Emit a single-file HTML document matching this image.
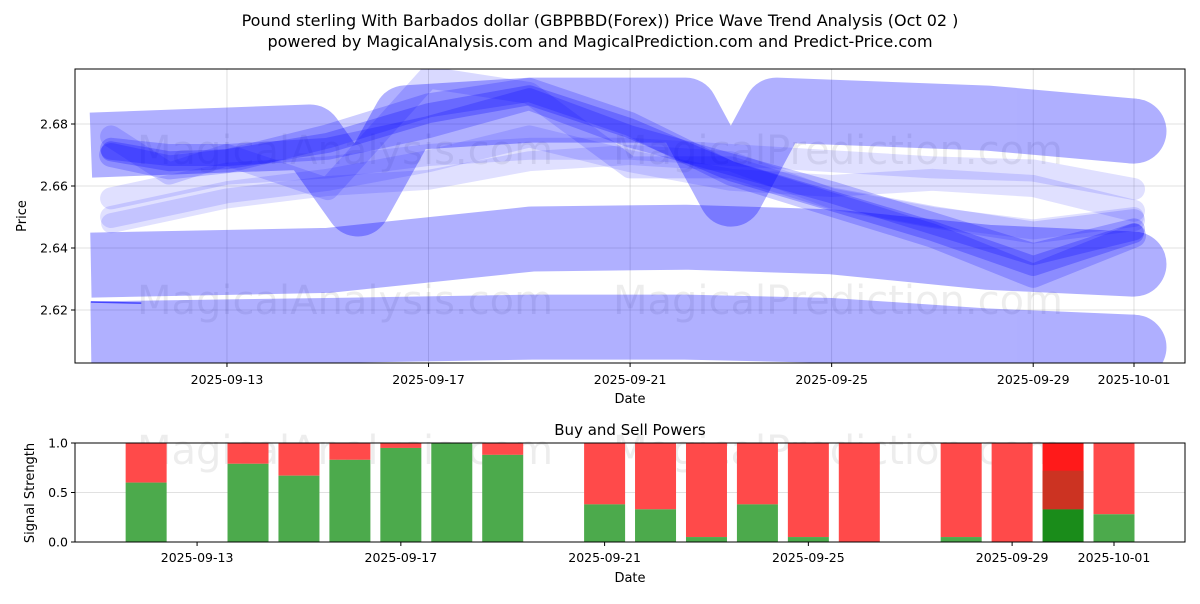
<!DOCTYPE html>
<html><head><meta charset="utf-8"><style>
body{margin:0;background:#fff;width:1200px;height:600px;overflow:hidden;font-family:"DejaVu Sans","Liberation Sans",sans-serif;}
svg text{font-family:"DejaVu Sans","Liberation Sans",sans-serif;}
</style></head><body>
<svg id="c" width="1200" height="600" xmlns="http://www.w3.org/2000/svg">
<text x="600" y="26" text-anchor="middle" font-size="16">Pound sterling With Barbados dollar (GBPBBD(Forex)) Price Wave Trend Analysis (Oct 02 )</text>
<text x="600" y="47" text-anchor="middle" font-size="16">powered by MagicalAnalysis.com and MagicalPrediction.com and Predict-Price.com</text>
<g id="top"></g><g id="bot"></g>
</svg>
<script>
// ---- top chart data (day offset from 2025-09-10, price) ----
const topTicks=[2.62,2.64,2.66,2.68];
const dateTicks=['2025-09-13','2025-09-17','2025-09-21','2025-09-25','2025-09-29','2025-10-01'];
const dateTickDays=[3,7,11,15,19,21];
const bandADays=[0.3,4.65,5.6,6.55,9.05,12.1,13.0,13.9,18.1,21];
const bandAPrice=[2.6732,2.6758,2.6542,2.6820,2.6845,2.6845,2.6574,2.6845,2.6819,2.6777];
const bandBDays=[0.3,5,9.05,12.1,15,18.1,21];
const bandBPrice=[2.6345,2.6360,2.6429,2.6435,2.6420,2.6370,2.6348];
const bandCDays=[0.3,5,9.05,12.1,15,18.1,21];
const bandCPrice=[2.6123,2.6134,2.6145,2.6145,2.6134,2.6100,2.6080];
const waveDays=[0.7,1.85,3.0,5,7,9,11,13,15,17,19,21];
const wave1=[2.6712,2.6680,2.6686,2.6739,2.6835,2.6893,2.6786,2.6648,2.6552,2.6455,2.6342,2.6448];
const wave2=[2.6720,2.6700,2.6700,2.6720,2.6790,2.6880,2.6760,2.6670,2.6580,2.6480,2.6380,2.6460];
const wave3=[2.6700,2.6660,2.6680,2.6760,2.6860,2.6910,2.6800,2.6640,2.6540,2.6440,2.6310,2.6440];
const wave4=[2.6560,2.6600,2.6640,2.6660,2.6700,2.6720,2.6720,2.6700,2.6680,2.6660,2.6650,2.6590];
const wave5=[2.6500,2.6540,2.6580,2.6620,2.6680,2.6760,2.6680,2.6620,2.6600,2.6620,2.6600,2.6520];
const wave6=[2.6760,2.6640,2.6700,2.6590,2.6950,2.6900,2.6660,2.6660,2.6560,2.6500,2.6450,2.6490];
const wave7=[2.6480,2.6520,2.6560,2.6600,2.6620,2.6680,2.6700,2.6680,2.6560,2.6500,2.6460,2.6500];
// ---- bottom chart data ----
const barDays=[2,4,5,6,7,8,9,11,12,13,14,15,16,18,19,20,21];
const buyPower=[0.60,0.79,0.67,0.83,0.95,1.0,0.88,0.38,0.33,0.05,0.38,0.05,0,0.05,0,0.33,0.28];
const sigTicks=[0,0.5,1.0];

const NS='http://www.w3.org/2000/svg';
function mk(tag,attrs,parent){const e=document.createElementNS(NS,tag);for(const k in attrs)e.setAttribute(k,attrs[k]);parent.appendChild(e);return e;}
const topG=document.getElementById('top'),botG=document.getElementById('bot');
const TL=75,TR=1185,TT=69,TB=363;
const tx=d=>75.8+d*50.39, ty=p=>310-(p-2.62)*3100;
const BL=75,BR=1185,BT=443,BB=542;
const bx=d=>1114-(21-d)*50.94, by=v=>BB-v*99;
const defs=mk('defs',{},topG);
const cp=mk('clipPath',{id:'cpt'},defs);mk('rect',{x:TL,y:TT,width:TR-TL,height:TB-TT},cp);
topTicks.forEach(t=>{const l=mk('line',{x1:TL,x2:TR,y1:ty(t),y2:ty(t),stroke:'#b0b0b0','stroke-opacity':0.5,'stroke-width':0.8},topG);});
dateTickDays.forEach(d=>{const l=mk('line',{x1:tx(d),x2:tx(d),y1:TT,y2:TB,stroke:'#b0b0b0','stroke-opacity':0.5,'stroke-width':0.8},topG);});
[[345,150],[838,150],[345,300],[838,300]].forEach((p,i)=>{const t=mk('text',{x:p[0],y:p[1]+14,'text-anchor':'middle','font-size':40,fill:'#000','fill-opacity':0.07},topG);t.textContent=i%2?'MagicalPrediction.com':'MagicalAnalysis.com';});
const g=mk('g',{'clip-path':'url(#cpt)'},topG);
function path(days,vals){return days.map((d,i)=>(i?'L':'M')+tx(d).toFixed(1)+','+ty(vals[i]).toFixed(1)).join(' ');}
function band(days,vals,name){const bg=mk('g',{opacity:0.31},g);
const p=mk('path',{d:path(days,vals),fill:'none',stroke:'#0000ff','stroke-width':65,'stroke-linejoin':'round','stroke-linecap':'butt'},bg);
const n=days.length-1;const c=mk('circle',{cx:tx(days[n]),cy:ty(vals[n]),r:32.5,fill:'#0000ff'},bg);}
band(bandCDays,bandCPrice,'band-low');
band(bandBDays,bandBPrice,'band-mid');
band(bandADays,bandAPrice,'band-high');
const wl=mk('line',{x1:tx(0.3),x2:tx(1.3),y1:ty(2.6226),y2:ty(2.6222),stroke:'#4444ff','stroke-width':1.5},g);
[[wave4,0.12,22],[wave5,0.12,22],[wave7,0.12,20],[wave6,0.15,22],[wave3,0.2,24],[wave2,0.22,22],[wave1,0.25,20]].forEach((w,i)=>{const p=mk('path',{d:path(waveDays,w[0]),fill:'none',stroke:'#0000ff','stroke-opacity':w[1],'stroke-width':w[2],'stroke-linejoin':'round','stroke-linecap':'round'},g);});
mk('rect',{x:TL,y:TT,width:TR-TL,height:TB-TT,fill:'none',stroke:'#000','stroke-width':1},topG);
topTicks.forEach(t=>{mk('line',{x1:TL-4,x2:TL,y1:ty(t),y2:ty(t),stroke:'#000'},topG);const e=mk('text',{x:TL-7,y:ty(t)+4.5,'text-anchor':'end','font-size':12.5},topG);e.textContent=t.toFixed(2);});
dateTickDays.forEach((d,i)=>{mk('line',{x1:tx(d),x2:tx(d),y1:TB,y2:TB+4,stroke:'#000'},topG);const e=mk('text',{x:tx(d),y:TB+21,'text-anchor':'middle','font-size':12.5},topG);e.textContent=dateTicks[i];});
let e=mk('text',{x:630,y:403,'text-anchor':'middle','font-size':13},topG);e.textContent='Date';
e=mk('text',{x:26,y:216,'text-anchor':'middle','font-size':13,transform:'rotate(-90 26 216)'},topG);e.textContent='Price';

sigTicks.forEach(t=>{const l=mk('line',{x1:BL,x2:BR,y1:by(t),y2:by(t),stroke:'#b0b0b0','stroke-opacity':0.5,'stroke-width':0.8},botG);});
[[345,450],[838,450]].forEach((p,i)=>{const t=mk('text',{x:p[0],y:p[1]+14,'text-anchor':'middle','font-size':40,fill:'#000','fill-opacity':0.07},botG);t.textContent=i?'MagicalPrediction.com':'MagicalAnalysis.com';});
barDays.forEach((d,i)=>{const x=bx(d)-20.5,v=buyPower[i];const special=(d===20);
const r=mk('rect',{x:x,y:by(1),width:41,height:by(v)-by(1),fill:special?'#ff1a1a':'#ff4a4a'},botG);
if(special){const m=mk('rect',{x:x,y:by(0.72),width:41,height:by(v)-by(0.72),fill:'#cc3322'},botG);}
const b=mk('rect',{x:x,y:by(v),width:41,height:BB-by(v),fill:special?'#1a8c1a':'#4caa4c'},botG);});
mk('rect',{x:BL,y:BT,width:BR-BL,height:BB-BT,fill:'none',stroke:'#000','stroke-width':1},botG);
sigTicks.forEach(t=>{mk('line',{x1:BL-4,x2:BL,y1:by(t),y2:by(t),stroke:'#000'},botG);const e=mk('text',{x:BL-7,y:by(t)+4.5,'text-anchor':'end','font-size':12.5},botG);e.textContent=t.toFixed(1);});
dateTickDays.forEach((d,i)=>{const X=bx(d);mk('line',{x1:X,x2:X,y1:BB,y2:BB+4,stroke:'#000'},botG);const e=mk('text',{x:X,y:BB+20,'text-anchor':'middle','font-size':12.5},botG);e.textContent=dateTicks[i];});
e=mk('text',{x:630,y:582,'text-anchor':'middle','font-size':13},botG);e.textContent='Date';
e=mk('text',{x:630,y:435,'text-anchor':'middle','font-size':15},botG);e.textContent='Buy and Sell Powers';
e=mk('text',{x:34,y:493,'text-anchor':'middle','font-size':13,transform:'rotate(-90 34 493)'},botG);e.textContent='Signal Strength';
</script>
</body></html>
